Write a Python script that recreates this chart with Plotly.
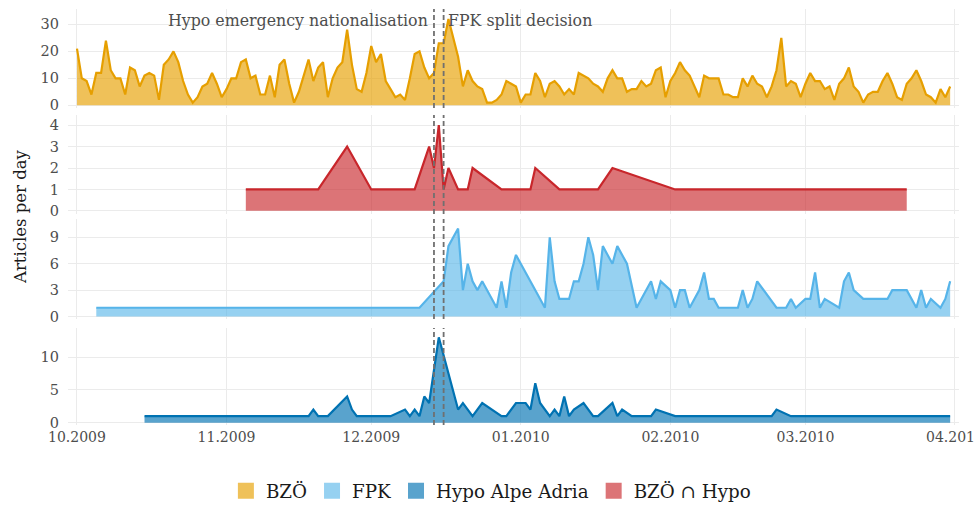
import plotly.graph_objects as go
import pandas as pd

START = pd.Timestamp("2009-10-01")

# BZÖ: daily counts from 2009-10-01 to 2010-03-31
bzoe_values = [
    21, 10, 9, 4, 12, 12, 24, 13, 10, 10, 4, 14, 13, 7, 11, 12, 11, 2, 15, 17,
    20, 16, 9, 4, 1, 3, 7, 8, 12, 8, 3, 6, 10, 10, 16, 17, 10, 11, 4, 4,
    11, 3, 15, 17, 8, 1, 5, 11, 17, 9, 14, 16, 3, 10, 14, 16, 28, 15, 6, 5,
    12, 22, 16, 19, 9, 6, 3, 4, 2, 10, 19, 20, 14, 10, 12, 23, 23, 32, 25, 18,
    7, 13, 9, 7, 6, 1, 1, 2, 4, 9, 8, 7, 1, 4, 4, 12, 9, 3, 8, 9,
    7, 4, 6, 4, 12, 11, 10, 8, 7, 5, 10, 13, 10, 10, 5, 6, 6, 9, 7, 8,
    13, 14, 3, 9, 12, 16, 13, 11, 7, 3, 11, 10, 10, 10, 4, 4, 3, 3, 10, 7,
    11, 8, 7, 3, 7, 13, 25, 7, 9, 8, 3, 8, 12, 9, 9, 6, 7, 2, 8, 10,
    14, 7, 5, 1, 4, 5, 5, 9, 12, 8, 3, 2, 8, 10, 13, 9, 4, 3, 1, 6,
    3, 7,
]

# BZÖ ∩ Hypo (day offsets from 2009-10-01)
inter_days = [35, 50, 56, 61, 70, 73, 74, 75, 76, 77, 79, 81, 82, 88, 94, 95, 100, 108, 111, 124, 172]
inter_values = [1, 1, 3, 1, 1, 3, 2, 4, 1, 2, 1, 1, 2, 1, 1, 2, 1, 1, 2, 1, 1]

# FPK
fpk_days = [4, 71, 76, 77, 78, 79, 80, 81, 82, 83, 84, 87, 88, 89, 90, 91, 97, 98, 99, 100,
            102, 103, 104, 105, 106, 107, 108, 109, 110, 111, 112, 113, 114, 116, 117, 118, 119, 120, 121, 123,
            124, 125, 126, 127, 129, 130, 131, 132, 133, 137, 138, 139, 140, 141, 145, 147, 148, 149, 151, 152,
            153, 154, 155, 158, 159, 160, 161, 163, 168, 169, 172, 174, 175, 176, 177, 179, 180, 181]
fpk_values = [1, 1, 4, 8, 9, 10, 3, 6, 4, 3, 4, 1, 4, 1, 5, 7, 1, 9, 4, 2,
              2, 4, 4, 6, 9, 7, 3, 8, 7, 6, 8, 7, 6, 1, 2, 3, 4, 2, 4, 3,
              1, 3, 3, 1, 3, 5, 2, 2, 1, 1, 3, 1, 2, 4, 1, 1, 2, 1, 2, 2,
              5, 1, 2, 1, 4, 5, 3, 2, 2, 3, 3, 1, 3, 1, 2, 1, 2, 4]

# Hypo Alpe Adria
hypo_days = [14, 48, 49, 50, 52, 56, 57, 58, 65, 68, 69, 70, 71, 72, 73, 74, 75, 79, 80, 82,
             84, 88, 89, 91, 93, 94, 95, 96, 98, 99, 100, 101, 102, 103, 105, 107, 108, 111, 112, 113,
             115, 119, 120, 124, 144, 145, 148, 181]
hypo_values = [1, 1, 2, 1, 1, 4, 2, 1, 1, 2, 1, 2, 1, 4, 3, 8, 13, 2, 3, 1,
               3, 1, 1, 3, 3, 2, 6, 3, 1, 2, 1, 4, 1, 2, 3, 1, 1, 3, 1, 2,
               1, 1, 2, 1, 1, 2, 1, 1]

event_dates = ["2009-12-14", "2009-12-16"]
event_labels = ["Hypo emergency nationalisation", "FPK split decision"]

month_ticks = ["2009-10-01", "2009-11-01", "2009-12-01", "2010-01-01",
               "2010-02-01", "2010-03-01", "2010-04-01"]

series_names = ["BZÖ", "BZÖ ∩ Hypo", "FPK", "Hypo Alpe Adria"]
ytick_sets = [[0, 10, 20, 30], [0, 1, 2, 3, 4], [0, 3, 6, 9], [0, 5, 10]]


def to_dates(days):
    return [START + pd.Timedelta(days=d) for d in days]


bzoe_dates = list(pd.date_range(START, periods=len(bzoe_values), freq="D"))

FONT = "DejaVu Serif"
line_colors = {"BZÖ": "#E69F00", "BZÖ ∩ Hypo": "#C8262B", "FPK": "#56B4E9", "Hypo Alpe Adria": "#0072B2"}
fill_colors = {"BZÖ": "rgba(230,159,0,0.65)", "BZÖ ∩ Hypo": "rgba(200,38,43,0.64)",
               "FPK": "rgba(86,180,233,0.62)", "Hypo Alpe Adria": "rgba(0,114,178,0.65)"}

panels = [
    ("BZÖ", bzoe_dates, bzoe_values),
    ("BZÖ ∩ Hypo", to_dates(inter_days), inter_values),
    ("FPK", to_dates(fpk_days), fpk_values),
    ("Hypo Alpe Adria", to_dates(hypo_days), hypo_values),
]

fig = go.Figure()
for i, (name, xs, ys) in enumerate(panels, start=1):
    fig.add_trace(go.Scatter(
        x=xs, y=ys, mode="lines", name=name, showlegend=False,
        line=dict(color=line_colors[name], width=2.2),
        fill="tozeroy", fillcolor=fill_colors[name],
        xaxis=f"x{i if i > 1 else ''}", yaxis=f"y{i if i > 1 else ''}",
    ))

# legend swatches
for name in ["BZÖ", "FPK", "Hypo Alpe Adria", "BZÖ ∩ Hypo"]:
    fig.add_trace(go.Scatter(
        x=[None], y=[None], mode="markers", name=name,
        marker=dict(symbol="square", size=16, color=fill_colors[name], line=dict(width=0)),
    ))

domains = [[0.762, 1.0], [0.507, 0.745], [0.255, 0.495], [0.0, 0.233]]
yranges = [[-1.0, 35.7], [-0.15, 4.47], [-0.27, 11.07], [-0.35, 14.41]]
xrange_ = ["2009-09-29 03:20", "2010-04-01 20:00"]

layout = dict(
    width=974, height=505,
    margin=dict(l=68, r=15, t=9, b=80),
    paper_bgcolor="white", plot_bgcolor="white",
    font=dict(family=FONT, size=14, color="#4D4D4D"),
    showlegend=True,
    legend=dict(orientation="h", xref="container", yref="container",
                x=0.504, xanchor="center", y=0.028, yanchor="middle",
                font=dict(family=FONT, size=18.3, color="#1A1A1A"),
                itemsizing="trace", tracegroupgap=0, itemwidth=30),
)

for i in range(1, 5):
    suffix = "" if i == 1 else str(i)
    layout[f"xaxis{suffix}"] = dict(
        type="date", range=xrange_, anchor=f"y{suffix}",
        matches=None if i == 1 else "x",
        tickvals=month_ticks, tickformat="%m.%Y",
        showticklabels=(i == 4), ticklabeloverflow="allow",
        showgrid=True, gridcolor="#EBEBEB", gridwidth=1,
        zeroline=False, showline=False, ticks="", automargin=False,
        tickfont=dict(family=FONT, size=14, color="#4D4D4D"),
        ticklabelstandoff=2,
    )
    layout[f"yaxis{suffix}"] = dict(
        domain=domains[i - 1], range=yranges[i - 1], anchor=f"x{suffix}",
        tickvals=ytick_sets[i - 1], showgrid=True, gridcolor="#EBEBEB", gridwidth=1,
        zeroline=False, showline=False, ticks="", automargin=False,
        tickfont=dict(family=FONT, size=14.5, color="#4D4D4D"),
        ticklabelstandoff=8,
    )

fig.update_layout(**layout)

# dashed event lines in each panel
for i in range(1, 5):
    suffix = "" if i == 1 else str(i)
    for d in event_dates:
        fig.add_shape(type="line", x0=d, x1=d, y0=0, y1=1,
                      xref=f"x{suffix}", yref=f"y{suffix} domain",
                      line=dict(color="#707070", width=1.8, dash="5px,3px"))

# event labels
fig.add_annotation(x=event_dates[0], y=31.6, xref="x", yref="y", text=event_labels[0],
                   showarrow=False, xanchor="right", yanchor="middle", xshift=-4,
                   font=dict(family=FONT, size=15.8, color="#4D4D4D"))
fig.add_annotation(x=event_dates[1], y=31.6, xref="x", yref="y", text=event_labels[1],
                   showarrow=False, xanchor="left", yanchor="middle", xshift=2,
                   font=dict(family=FONT, size=15.8, color="#4D4D4D"))

# y-axis title
fig.add_annotation(x=0, y=0.5, xref="paper", yref="paper", text="Articles per day",
                   showarrow=False, textangle=-90, xanchor="center", yanchor="middle", xshift=-48,
                   font=dict(family=FONT, size=16.5, color="#1A1A1A"))

fig.write_html("out.html", config={"displayModeBar": False},
               post_script="document.body.style.margin='0px';document.body.style.overflow='hidden';")
